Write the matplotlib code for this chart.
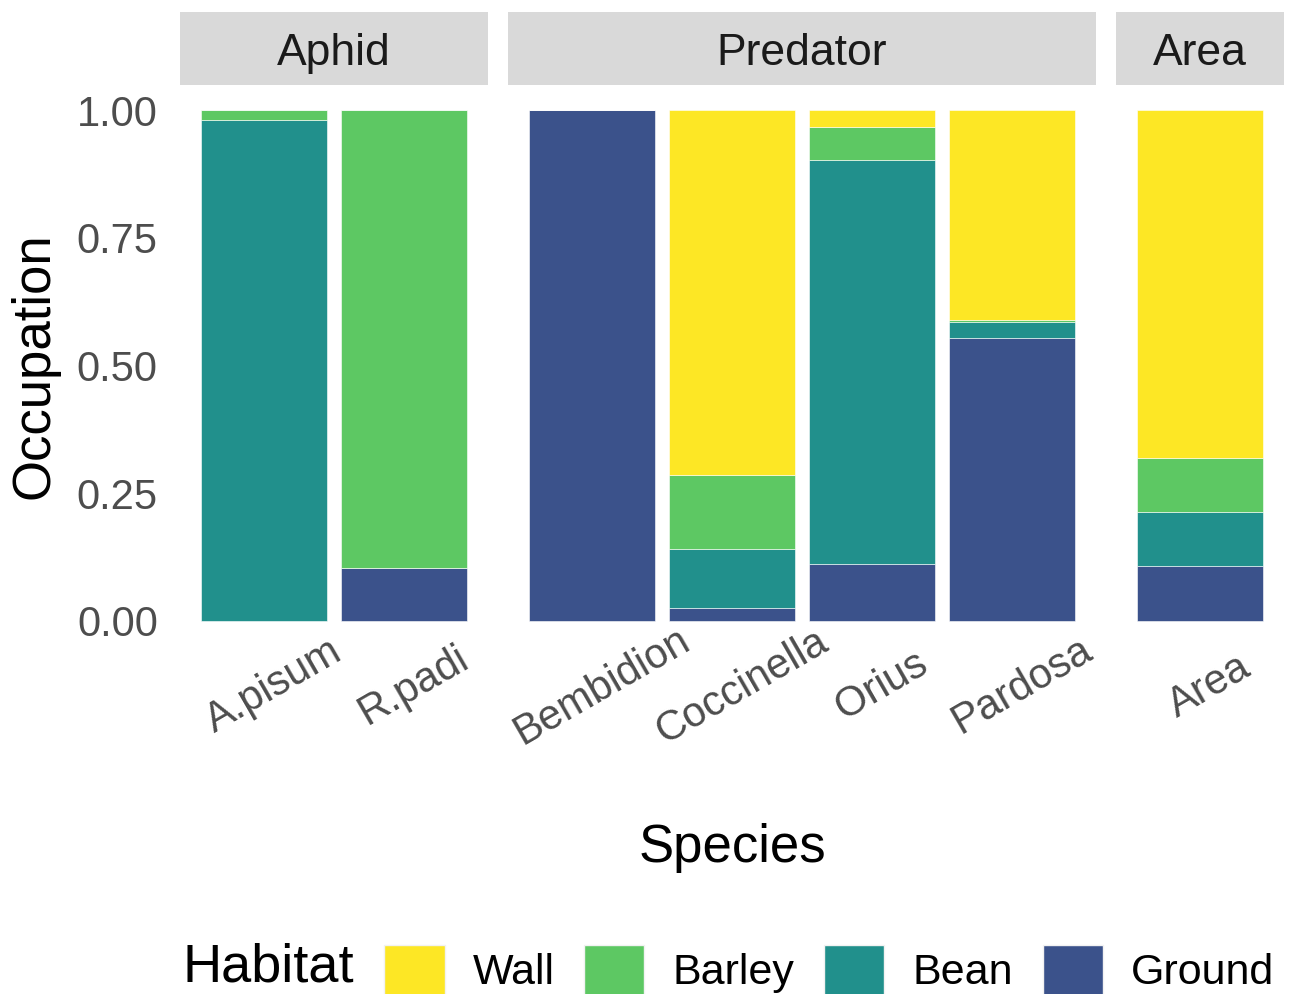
import numpy as np
import matplotlib
matplotlib.use('Agg')
import matplotlib.pyplot as plt
from matplotlib.patches import Rectangle, Patch

plt.rcParams['font.family'] = ['Liberation Sans', 'DejaVu Sans']

# Habitat occupation per species (stacked proportions)
species = ['A.pisum', 'R.padi', 'Bembidion', 'Coccinella', 'Orius', 'Pardosa', 'Area']
groups = ['Aphid', 'Aphid', 'Predator', 'Predator', 'Predator', 'Predator', 'Area']
facets = ['Aphid', 'Predator', 'Area']
habitats = ['Wall', 'Barley', 'Bean', 'Ground']

ground = [0.000, 0.104, 1.000, 0.025, 0.112, 0.554, 0.108]
bean   = [0.980, 0.000, 0.000, 0.115, 0.790, 0.032, 0.106]
barley = [0.020, 0.896, 0.000, 0.146, 0.064, 0.003, 0.104]
wall   = [0.000, 0.000, 0.000, 0.714, 0.034, 0.411, 0.682]

colors = {'Wall': '#FDE725', 'Barley': '#5DC863', 'Bean': '#21908C', 'Ground': '#3B528B'}
values = {'Wall': wall, 'Barley': barley, 'Bean': bean, 'Ground': ground}

W, H = 1296, 994
fig = plt.figure(figsize=(W / 100, H / 100), dpi=100)

def fx(px):
    return px / W

def fy(py):
    return 1 - py / H

unit = 140.0
gap = 20.0
left = 180.0
top, bottom = 84.5, 646.5
strip_top = 12.0
tick_col = '#4D4D4D'

axes = []
x0 = left
for f in facets:
    idx = [i for i, g in enumerate(groups) if g == f]
    n = len(idx)
    width = (n - 1 + 1.2) * unit
    ax = fig.add_axes([fx(x0), fy(bottom), width / W, (bottom - top) / H])
    x = np.arange(n)
    base = np.zeros(n)
    for h in ['Ground', 'Bean', 'Barley', 'Wall']:
        v = np.array([values[h][i] for i in idx])
        ax.bar(x, v, width=0.9, bottom=base, color=colors[h],
               edgecolor='white', linewidth=0.4)
        base += v
    ax.set_xlim(-0.6, n - 1 + 0.6)
    ax.set_ylim(-0.05, 1.05)
    ax.set_xticks(x)
    ax.set_xticklabels([species[i] for i in idx], rotation=30, ha='center',
                       va='top', rotation_mode='anchor', fontsize=30, color=tick_col)
    ax.tick_params(axis='x', length=0, pad=16)
    if f == facets[0]:
        ax.set_yticks([0, 0.25, 0.5, 0.75, 1.0])
        ax.set_yticklabels(['0.00', '0.25', '0.50', '0.75', '1.00'],
                           fontsize=30, color=tick_col)
        ax.tick_params(axis='y', length=0, pad=16)
    else:
        ax.set_yticks([])
    for s in ax.spines.values():
        s.set_visible(False)
    # facet strip
    sh = (top - strip_top) / (bottom - top)
    ax.add_patch(Rectangle((0, 1), 1, sh, transform=ax.transAxes,
                           facecolor='#D9D9D9', edgecolor='none', clip_on=False))
    fig.text(fx(x0 + width / 2), fy(65), f, ha='center', va='baseline',
             fontsize=32, color='#1A1A1A')
    axes.append(ax)
    x0 += width + gap

fig.text(fx(35), fy((top + bottom) / 2), 'Occupation', rotation=90,
         ha='center', va='center', fontsize=38)
fig.text(fx(732), fy(848), 'Species', ha='center', va='center', fontsize=38)

# legend along the bottom
fig.text(fx(182), fy(968), 'Habitat', ha='left', va='center', fontsize=39)
handles = [Patch(facecolor=colors[h], edgecolor='#F2F2F2', label=h) for h in habitats]
fig.legend(handles=handles, loc='center left', bbox_to_anchor=(fx(367), fy(970)),
           ncol=4, frameon=False, fontsize=31, handlelength=1.4, handleheight=1.4,
           handletextpad=0.66, columnspacing=0.68, borderaxespad=0)

fig.savefig('out.png', dpi=100, facecolor='white')
